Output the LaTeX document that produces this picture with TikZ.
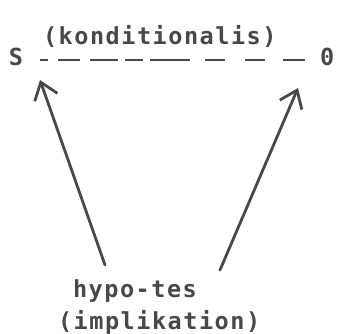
\documentclass[tikz,border=0pt]{standalone}
\usepackage{fontspec}
\newfontfamily\tw[LetterSpace=6.5]{DejaVu Sans Mono}
\usetikzlibrary{arrows.meta}
\definecolor{ink}{HTML}{484848}
\tikzset{
  lbl/.style={inner sep=0pt, outer sep=0pt, text=ink, font=\tw\fontsize{23.5}{26}\selectfont\bfseries, anchor=base west},
  hyparrow/.style={draw=ink, line width=2.8pt, line cap=round, -{Straight Barb[length=16pt,width=24pt,line width=2.8pt]}},
  condline/.style={draw=ink, line width=2.8pt, dash pattern=on 8pt off 10pt on 22pt off 10pt on 28pt off 7pt on 18pt off 7pt on 40pt off 15pt on 20pt off 20pt on 20pt off 18pt on 22pt off 30pt}
}
\begin{document}
\begin{tikzpicture}[x=1pt,y=-1pt]
\useasboundingbox (0,0) rectangle (340,334);
\node[lbl] (kond) at (43,45) {(konditionalis)};
\node[lbl] (S) at (9,66) {S};
\node[lbl] (O) at (320,66) {0};
\node[lbl] (hyp) at (73,297) {hypo-tes};
\node[lbl] (impl) at (58,329) {(implikation)};
\coordinate (dl) at (40,60);
\coordinate (dr) at (305,60);
\coordinate (lt) at (40,80);
\coordinate (lb) at (105,265);
\coordinate (rt) at (298,88);
\coordinate (rb) at (220,270);
\draw[condline] (dl) -- (dr);
\draw[hyparrow] (lb) -- (lt);
\draw[hyparrow] (rb) -- (rt);
\end{tikzpicture}
\end{document}
